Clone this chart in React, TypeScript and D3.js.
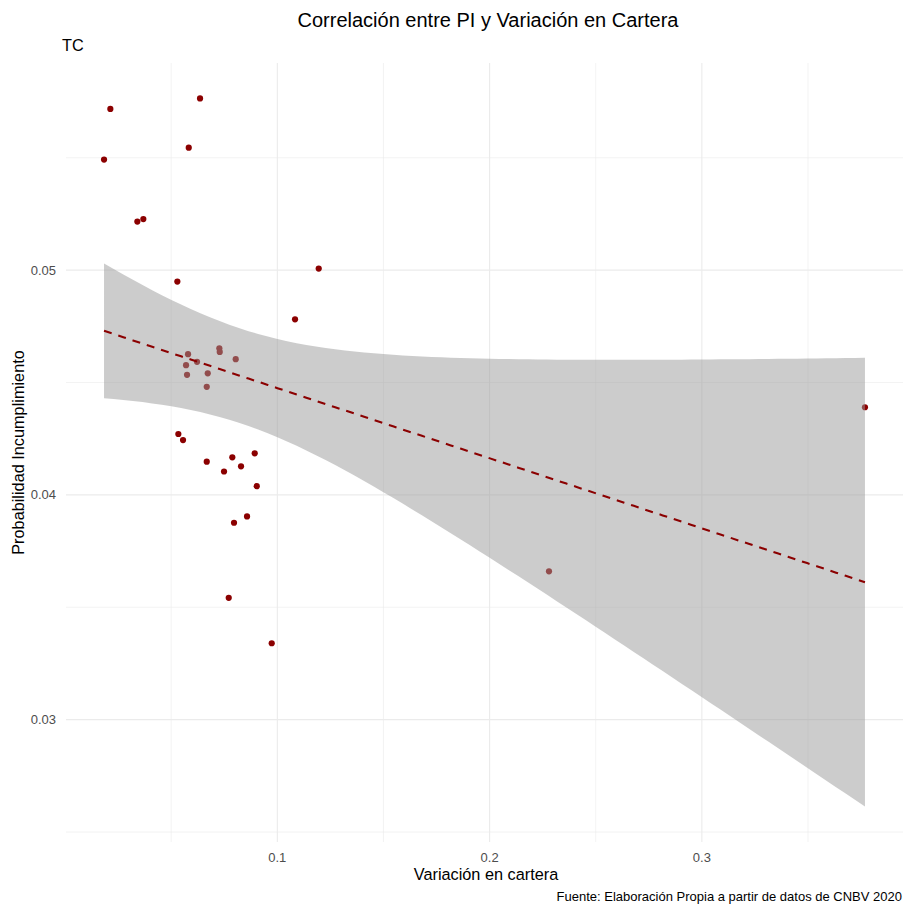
import React from 'react';
import * as d3 from 'd3';

// Variación en cartera (x) and Probabilidad Incumplimiento (y)
const variacion = [
  0.01837, 0.02134, 0.06359, 0.05827, 0.03406, 0.03688, 0.0529, 0.1195,
  0.10834, 0.37683, 0.22798, 0.05794, 0.057, 0.05747, 0.06218, 0.07268,
  0.07287, 0.0804, 0.06722, 0.06675, 0.05337, 0.05558, 0.06675, 0.0788,
  0.08935, 0.07489, 0.0829, 0.0903, 0.08573, 0.0796, 0.07711, 0.09736,
];
const probIncumplimiento = [
  0.05492, 0.05717, 0.05764, 0.05545, 0.05216, 0.05227, 0.04949, 0.05007,
  0.04781, 0.0439, 0.0366, 0.04626, 0.04577, 0.04534, 0.04592, 0.04652,
  0.04636, 0.04604, 0.04541, 0.04481, 0.04271, 0.04244, 0.04148, 0.04167,
  0.04185, 0.04104, 0.04127, 0.04039, 0.03904, 0.03876, 0.03542, 0.0334,
];

const xMajor = [0.1, 0.2, 0.3];
const xMinor = [0.05, 0.15, 0.25, 0.35];
const yMajor = [0.03, 0.04, 0.05];
const yMinor = [0.025, 0.035, 0.045, 0.055];

const title = 'Correlación entre PI y Variación en Cartera';
const subtitle = 'TC';
const xTitle = 'Variación en cartera';
const yTitle = 'Probabilidad Incumplimiento';
const caption = 'Fuente: Elaboración Propia a partir de datos de CNBV 2020';

const width = 904;
const height = 905;
const panel = { left: 66, right: 903, top: 63, bottom: 842 };
const font = '"Liberation Sans", Arial, sans-serif';
const pointColor = '#8B0000';
// t quantile 0.975 with n - 2 = 30 degrees of freedom
const tCrit = 2.0423;

// lm fit + 95% band, like geom_smooth(method = "lm")
const points = variacion.map((x, i) => ({ x, y: probIncumplimiento[i] }));
const n = points.length;
const xBar = d3.mean(variacion) as number;
const yBar = d3.mean(probIncumplimiento) as number;
const sxx = d3.sum(points, (p) => (p.x - xBar) ** 2);
const sxy = d3.sum(points, (p) => (p.x - xBar) * (p.y - yBar));
const slope = sxy / sxx;
const intercept = yBar - slope * xBar;
const sigma = Math.sqrt(
  d3.sum(points, (p) => (p.y - (intercept + slope * p.x)) ** 2) / (n - 2)
);
const [xMin, xMax] = d3.extent(variacion) as [number, number];
const fit = d3.range(80).map((i) => {
  const x = xMin + ((xMax - xMin) * i) / 79;
  const y = intercept + slope * x;
  const se = sigma * Math.sqrt(1 / n + (x - xBar) ** 2 / sxx);
  return { x, y, lo: y - tCrit * se, hi: y + tCrit * se };
});

const expand = (lo: number, hi: number) => {
  const pad = (hi - lo) * 0.05;
  return [lo - pad, hi + pad];
};
const yLo = Math.min(d3.min(probIncumplimiento) as number, d3.min(fit, (d) => d.lo) as number);
const yHi = Math.max(d3.max(probIncumplimiento) as number, d3.max(fit, (d) => d.hi) as number);

const xScale = d3.scaleLinear().domain(expand(xMin, xMax)).range([panel.left, panel.right]);
const yScale = d3.scaleLinear().domain(expand(yLo, yHi)).range([panel.bottom, panel.top]);

const ribbon = d3
  .area<(typeof fit)[number]>()
  .x((d) => xScale(d.x))
  .y0((d) => yScale(d.lo))
  .y1((d) => yScale(d.hi));
const fitLine = d3
  .line<(typeof fit)[number]>()
  .x((d) => xScale(d.x))
  .y((d) => yScale(d.y));

const App = () => {
  const midX = (panel.left + panel.right) / 2;
  const midY = (panel.top + panel.bottom) / 2;
  return (
    <svg width={width} height={height} style={{ position: 'absolute', left: 0, top: 0 }}>
      <rect width={width} height={height} fill="#ffffff" />
      <g>
        {xMinor.map((t) => (
          <line key={'xm' + t} x1={xScale(t)} x2={xScale(t)} y1={panel.top} y2={panel.bottom} stroke="#ebebeb" strokeWidth={0.6} />
        ))}
        {yMinor.map((t) => (
          <line key={'ym' + t} x1={panel.left} x2={panel.right} y1={yScale(t)} y2={yScale(t)} stroke="#ebebeb" strokeWidth={0.6} />
        ))}
        {xMajor.map((t) => (
          <line key={'xM' + t} x1={xScale(t)} x2={xScale(t)} y1={panel.top} y2={panel.bottom} stroke="#ebebeb" strokeWidth={1.1} />
        ))}
        {yMajor.map((t) => (
          <line key={'yM' + t} x1={panel.left} x2={panel.right} y1={yScale(t)} y2={yScale(t)} stroke="#ebebeb" strokeWidth={1.1} />
        ))}
      </g>
      <g>
        {points.map((p, i) => (
          <circle key={i} cx={xScale(p.x)} cy={yScale(p.y)} r={3.1} fill={pointColor} />
        ))}
      </g>
      <path d={ribbon(fit) as string} fill="#999999" fillOpacity={0.5} />
      <path d={fitLine(fit) as string} fill="none" stroke={pointColor} strokeWidth={2.1} strokeDasharray="8,7" />
      <g fontFamily={font} fill="#4d4d4d" fontSize={13}>
        {xMajor.map((t) => (
          <text key={'xl' + t} x={xScale(t)} y={862} textAnchor="middle">
            {d3.format('.1f')(t)}
          </text>
        ))}
        {yMajor.map((t) => (
          <text key={'yl' + t} x={56} y={yScale(t) + 4.5} textAnchor="end">
            {d3.format('.2f')(t)}
          </text>
        ))}
      </g>
      <g fontFamily={font} fill="#000000">
        <text x={488} y={27} textAnchor="middle" fontSize={20}>
          {title}
        </text>
        <text x={62} y={51} fontSize={16.3}>
          {subtitle}
        </text>
        <text x={486} y={880} textAnchor="middle" fontSize={16.3}>
          {xTitle}
        </text>
        <text transform={`translate(24, ${midY}) rotate(-90)`} textAnchor="middle" fontSize={16.3}>
          {yTitle}
        </text>
        <text x={902} y={901} textAnchor="end" fontSize={13}>
          {caption}
        </text>
      </g>
    </svg>
  );
};

export default App;
